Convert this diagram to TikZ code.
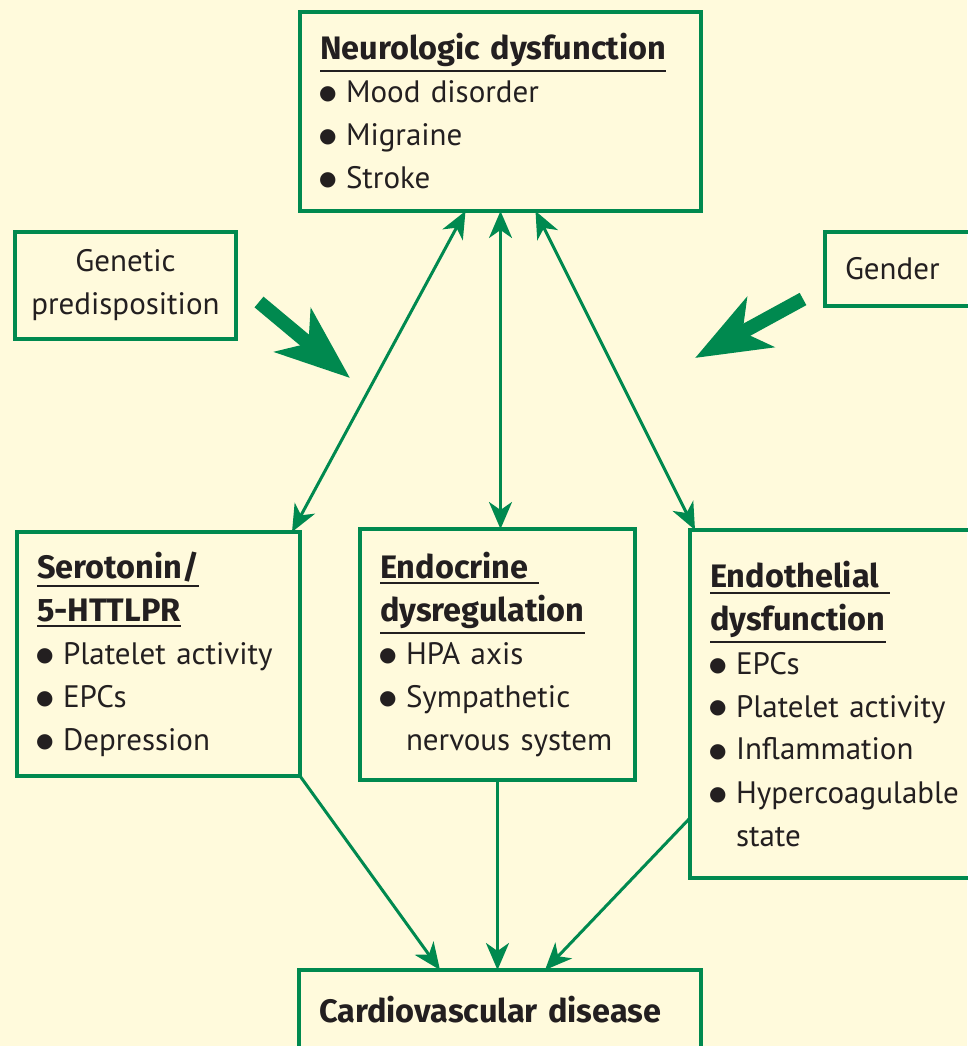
\documentclass[tikz,border=0pt]{standalone}
\usepackage{fontspec}
\setmainfont{PT Sans}
\newfontfamily\headfont{Fira Sans}
\newfontfamily\bulfont{DejaVu Sans}
\usetikzlibrary{arrows.meta}
\definecolor{figgreen}{RGB}{0,137,79}
\definecolor{figcream}{RGB}{255,250,220}
\definecolor{figtext}{RGB}{35,31,32}
\newcommand{\hdline}[1]{\leavevmode\setbox0\hbox{\headfont\bfseries\fontsize{32.5}{43}\selectfont #1}\rlap{\rule[-\dimexpr\dp0+5pt\relax]{\wd0}{2pt}}\box0}
\newcommand{\bul}{\makebox[26pt][l]{\hspace{-1pt}\raisebox{3pt}{\bulfont\fontsize{20}{20}\selectfont ●}}}
\tikzset{
  box/.style={draw=figgreen, line width=4pt, anchor=north west, outer sep=0pt,
    inner xsep=20pt, inner ysep=0pt, align=left, text=figtext,
    font=\fontsize{31}{43}\selectfont},
  link/.style={figgreen, line width=3pt, -{Stealth[length=27pt,width=23pt,inset=8pt]}},
  both/.style={figgreen, line width=3pt,
    {Stealth[length=27pt,width=23pt,inset=8pt]}-{Stealth[length=27pt,width=23pt,inset=8pt]}},
  fat/.style={figgreen, line width=14pt, -{Stealth[length=74pt,width=56pt,inset=20pt]}}
}
\begin{document}
\begin{tikzpicture}[x=1pt,y=-1pt]
  \path[use as bounding box, fill=figcream] (0,0) rectangle (967,1046);
  \node[box, text width=361pt, minimum height=199pt] (neuro) at (300,12)
    {\hdline{Neurologic dysfunction}\\ \bul Mood disorder\\ \bul Migraine\\ \bul Stroke};
  \node[box, inner xsep=10pt, align=center, text width=201pt, minimum height=107pt] (genetic) at (15,232)
    {Genetic\\ predisposition};
  \node[box, text width=110pt, minimum height=74pt] (gender) at (825,232) {Gender};
  \node[box, text width=243pt, minimum height=244pt] (sero) at (17,532)
    {\hdline{Serotonin/}\\ \hdline{5-HTTLPR}\\ \bul Platelet activity\\ \bul EPCs\\ \bul Depression};
  \node[box, text width=235pt, minimum height=251pt] (endo) at (360,529)
    {\hdline{Endocrine\ }\\ \hdline{dysregulation}\\ \bul HPA axis\\ \bul Sympathetic\\ \phantom{\bul}nervous system};
  \node[box, text width=250pt, minimum height=348pt] (endoth) at (690,530)
    {\hdline{Endothelial\ }\\ \hdline{dysfunction}\\ \bul EPCs\\ \bul Platelet activity\\ \bul Inflammation\\ \bul Hypercoagulable\\ \phantom{\bul}state};
  \node[box, text width=362pt, minimum height=80pt] (cvd) at (299,970)
    {{\headfont\bfseries\fontsize{32.5}{43}\selectfont Cardiovascular disease}};
  % links to and from the neurologic box
  \draw[both] ([xshift=-35pt]neuro.south) -- ([xshift=-8pt]sero.north east);
  \draw[both] (neuro.south) -- (neuro.south |- endo.north);
  \draw[both] ([xshift=35pt]neuro.south) -- ([xshift=5pt]endoth.north west);
  % links down to cardiovascular disease
  \draw[link] (sero.south east) -- ([xshift=141pt]cvd.north west);
  \draw[link] (endo.south) -- (endo.south |- cvd.north);
  \draw[link] ([yshift=60pt]endoth.south west) -- ([xshift=246pt]cvd.north west);
  % modifying factors
  \coordinate (genetail) at (259,302);
  \coordinate (genetip) at (350,378);
  \coordinate (gendertail) at (803,299);
  \coordinate (gendertip) at (695,358);
  \draw[fat] (genetail) -- (genetip);
  \draw[fat] (gendertail) -- (gendertip);
\end{tikzpicture}
\end{document}
